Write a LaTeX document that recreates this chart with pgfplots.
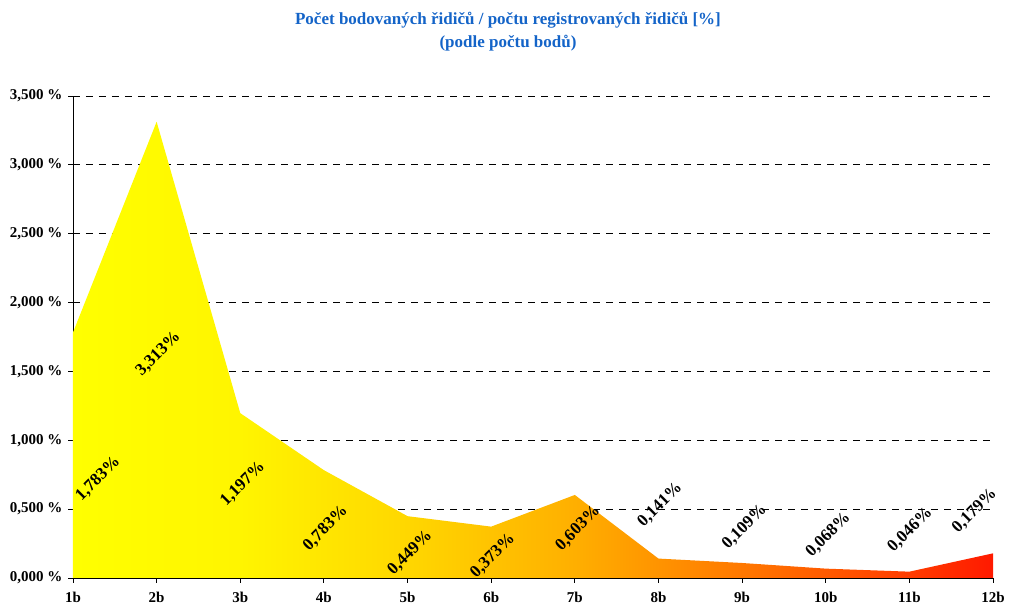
\documentclass[border=0pt]{standalone}
\usepackage{pgfplots}
\pgfplotsset{compat=1.18}
\usepackage{fontspec}
\setmainfont{Liberation Serif}
\definecolor{titleblue}{RGB}{20,100,200}
\pgfdeclarehorizontalshading{myshade}{100bp}{rgb(0bp)=(1,1,0); rgb(25bp)=(1,1,0); rgb(34.1bp)=(1,0.96,0); rgb(43.2bp)=(1,0.843,0); rgb(47.7bp)=(1,0.765,0); rgb(52.3bp)=(1,0.686,0); rgb(61.4bp)=(1,0.47,0); rgb(70.5bp)=(1,0.235,0); rgb(75bp)=(1,0.1,0); rgb(100bp)=(1,0.1,0)}
\begin{document}
\begin{tikzpicture}
\useasboundingbox (-73pt,-32pt) rectangle (937pt,578pt);
\begin{axis}[at={(0,0)}, anchor=south west, scale only axis, width=920pt, height=482pt,
 xmin=0, xmax=11, ymin=0, ymax=3.5,
 axis x line*=bottom, axis y line*=left,
 axis line style={-, black, line width=0.9pt},
 xtick={0,...,11},
 xticklabels={1b,2b,3b,4b,5b,6b,7b,8b,9b,10b,11b,12b},
 ytick={0,0.5,1,1.5,2,2.5,3,3.5},
 yticklabels={{0,000 \%},{0,500 \%},{1,000 \%},{1,500 \%},{2,000 \%},{2,500 \%},{3,000 \%},{3,500 \%}},
 tick align=outside, major tick length=5pt,
 tick style={black, line width=0.9pt},
 ymajorgrids, grid style={black, line width=0.9pt, dash pattern=on 7pt off 6pt},
 ticklabel style={font=\fontsize{15}{18}\selectfont\bfseries},
 xticklabel style={yshift=-6pt},
 yticklabel style={xshift=-2pt},
 clip=false]
\addplot[draw=none, shading=myshade] coordinates {
 (0,1.783) (1,3.313) (2,1.197) (3,0.783) (4,0.449) (5,0.373)
 (6,0.603) (7,0.141) (8,0.109) (9,0.068) (10,0.046) (11,0.179)} \closedcycle;
\addplot[draw=none, mark=none, nodes near coords, point meta=explicit symbolic,
 every node near coord/.append style={rotate=45, anchor=center, inner sep=0pt,
 font=\fontsize{17}{20}\selectfont\bfseries}] coordinates {
 (0.30,0.72)[1,783\%] (1.02,1.63)[3,313\%] (2.03,0.68)[1,197\%]
 (3.02,0.36)[0,783\%] (4.03,0.18)[0,449\%] (5.02,0.16)[0,373\%]
 (6.04,0.36)[0,603\%] (7.02,0.53)[0,141\%] (8.03,0.37)[0,109\%]
 (9.03,0.31)[0,068\%] (10.01,0.35)[0,046\%] (10.78,0.49)[0,179\%]};
\end{axis}
\node[font=\fontsize{17}{23}\selectfont\bfseries, text=titleblue, align=center] at (435pt,546pt)
 {Počet bodovaných řidičů / počtu registrovaných řidičů [\%]\\(podle počtu bodů)};
\end{tikzpicture}
\end{document}
